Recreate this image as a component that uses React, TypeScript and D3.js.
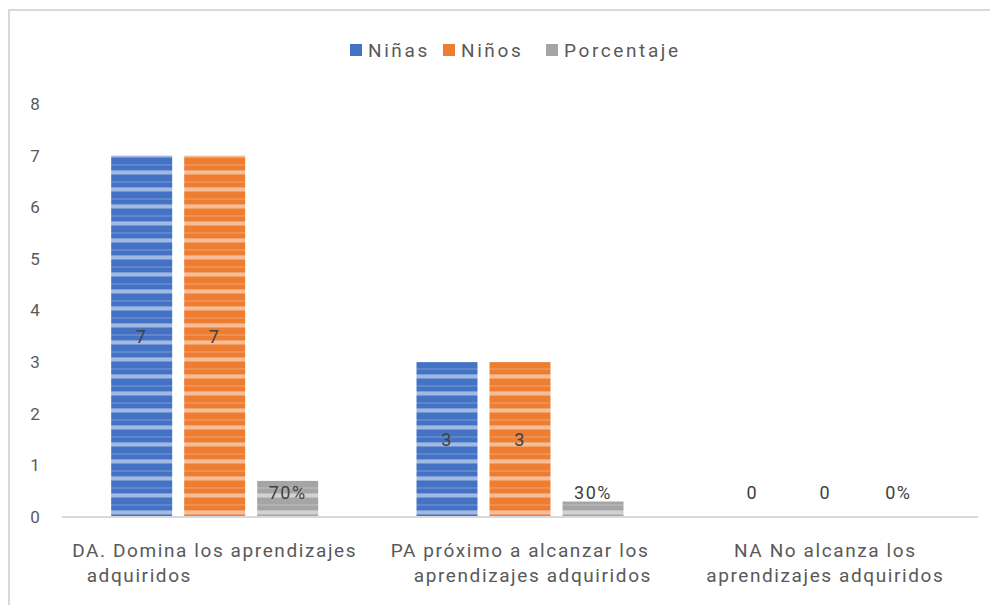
import React, { useEffect, useRef } from 'react';
import * as d3 from 'd3';

const categories = ['DA', 'PA', 'NA'];
const categoryLines = [
  ['DA. Domina los aprendizajes', 'adquiridos'],
  ['PA próximo a alcanzar los', 'aprendizajes adquiridos'],
  ['NA No alcanza los', 'aprendizajes adquiridos'],
];
const ninas = [7, 3, 0];
const ninos = [7, 3, 0];
const porcentaje = [0.7, 0.3, 0];
const seriesNames = ['Niñas', 'Niños', 'Porcentaje'];
const seriesColors = ['#4472c4', '#ed7d31', '#a5a5a5'];
const yTicks = [0, 1, 2, 3, 4, 5, 6, 7, 8];

const W = 995;
const H = 605;

const App: React.FC = () => {
  const svgRef = useRef<SVGSVGElement>(null);

  useEffect(() => {
    if (!svgRef.current) return;
    const svg = d3.select(svgRef.current);
    svg.selectAll('*').remove();

    const font = 'Roboto, "Open Sans", sans-serif';
    const textColor = '#595959';
    const left = 62, right = 978, top = 104, bottom = 517;

    // striped fills
    const defs = svg.append('defs');
    seriesColors.forEach((c, i) => {
      const p = defs.append('pattern').attr('id', 'stripe' + i)
        .attr('patternUnits', 'userSpaceOnUse').attr('width', 10).attr('height', 17)
        .attr('y', bottom);
      p.append('rect').attr('width', 10).attr('height', 17).attr('fill', c);
      p.append('rect').attr('y', 4).attr('width', 10).attr('height', 2).attr('fill', '#fff').attr('opacity', 0.15);
      p.append('rect').attr('y', 10).attr('width', 10).attr('height', 1).attr('fill', '#fff').attr('opacity', 0.3);
      p.append('rect').attr('y', 11).attr('width', 10).attr('height', 3).attr('fill', '#fff').attr('opacity', 0.5);
      p.append('rect').attr('y', 14).attr('width', 10).attr('height', 1).attr('fill', '#fff').attr('opacity', 0.25);
    });

    // chart border
    svg.append('path').attr('d', `M9,${H} V10 H990`).attr('fill', 'none')
      .attr('stroke', '#d9d9d9').attr('stroke-width', 2);

    const x0 = d3.scaleBand<string>().domain(categories).range([left, right]);
    const y = d3.scaleLinear().domain([0, 8]).range([bottom, top]);
    const barW = 61, step = 73;

    // y tick labels
    svg.append('g').selectAll('text').data(yTicks).join('text')
      .attr('x', 35).attr('y', d => y(d)).attr('dy', '0.35em')
      .attr('text-anchor', 'middle').attr('font-family', font).attr('font-size', 17)
      .attr('fill', textColor).text(d => String(d));

    const series = [ninas, ninos, porcentaje];
    series.forEach((vals, si) => {
      const g = svg.append('g');
      g.selectAll('rect').data(vals).join('rect')
        .attr('x', (_, i) => x0(categories[i])! + x0.bandwidth() / 2 - step + si * step - barW / 2)
        .attr('y', d => y(d))
        .attr('width', barW)
        .attr('height', d => bottom - y(d))
        .attr('fill', `url(#stripe${si})`);
      g.selectAll('text').data(vals).join('text')
        .attr('x', (_, i) => x0(categories[i])! + x0.bandwidth() / 2 - step + si * step)
        .attr('y', d => {
          if (si === 2) return bottom - 24;
          return d > 0 ? (y(d) + bottom) / 2 : bottom - 24;
        })
        .attr('dy', '0.35em').attr('text-anchor', 'middle')
        .attr('font-family', font).attr('font-size', 18).attr('letter-spacing', 1.5)
        .attr('fill', '#404040')
        .text(d => si === 2 ? d3.format('.0%')(d) : String(d));
    });

    // axis line
    svg.append('line').attr('x1', left).attr('x2', right).attr('y1', bottom).attr('y2', bottom)
      .attr('stroke', '#d9d9d9').attr('stroke-width', 2);

    // category labels
    categoryLines.forEach((lines, i) => {
      const cx = x0(categories[i])! + x0.bandwidth() / 2;
      const t = svg.append('text').attr('font-family', font).attr('font-size', 19)
        .attr('letter-spacing', 1.6).attr('fill', textColor);
      t.append('tspan').attr('x', cx).attr('y', 557).attr('text-anchor', 'middle').text(lines[0]);
      const l2 = t.append('tspan').attr('y', 582).text(lines[1]);
      if (i === 0) l2.attr('x', cx - 128).attr('text-anchor', 'start');
      else if (i === 1) l2.attr('x', cx + 132).attr('text-anchor', 'end');
      else l2.attr('x', cx).attr('text-anchor', 'middle');
    });

    // legend
    const legendX = [350, 443, 546];
    seriesNames.forEach((name, i) => {
      svg.append('rect').attr('x', legendX[i]).attr('y', 44).attr('width', 12).attr('height', 12)
        .attr('fill', seriesColors[i]);
      svg.append('text').attr('x', legendX[i] + 18).attr('y', 50).attr('dy', '0.35em')
        .attr('font-family', font).attr('font-size', 19).attr('letter-spacing', 2.6)
        .attr('fill', textColor).text(name);
    });
  }, []);

  return (
    <div style={{ position: 'fixed', left: 0, top: 0 }}>
      <svg ref={svgRef} width={W} height={H} style={{ display: 'block', background: '#fff' }}></svg>
    </div>
  );
};

export default App;
